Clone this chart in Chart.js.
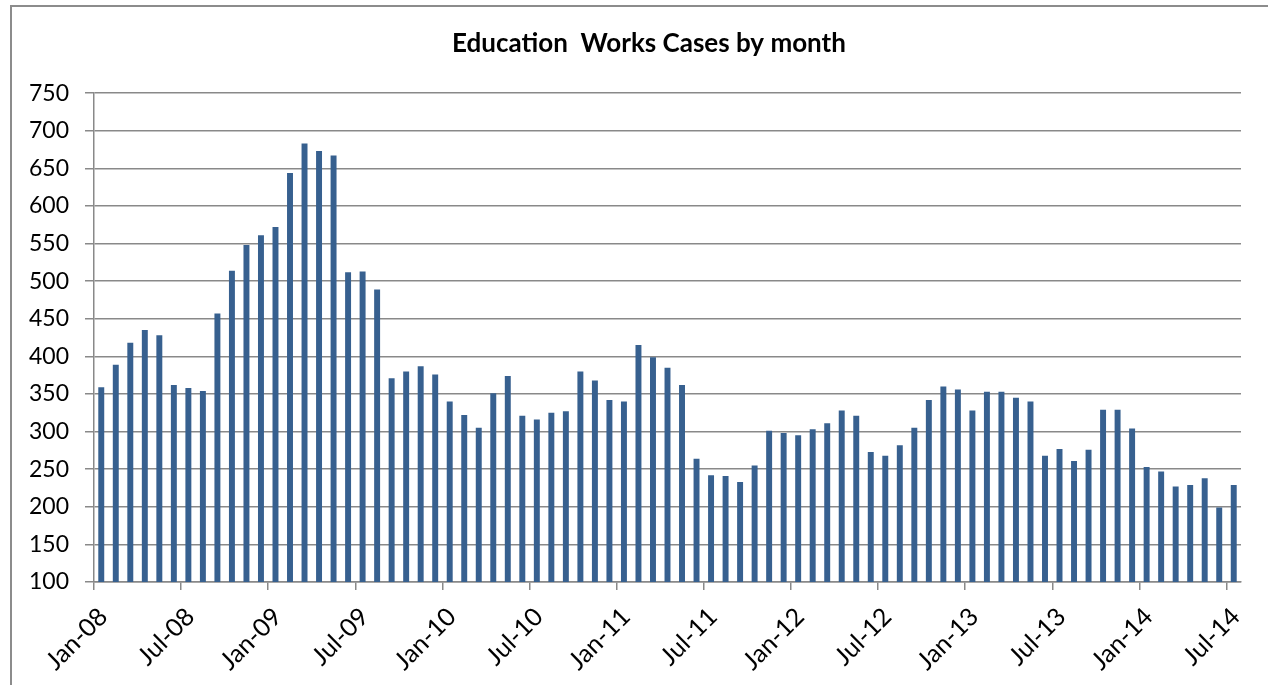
<!DOCTYPE html>
<html>
<head>
<meta charset="utf-8">
<script src="https://cdn.jsdelivr.net/npm/chart.js@4.4.1/dist/chart.umd.min.js"></script>
<style>
  html, body { margin: 0; padding: 0; background: #fff; overflow: hidden; }
  #frame { position: absolute; left: 10px; top: 5px; width: 1300px; height: 720px;
           border-left: 2px solid #8c8c8c; border-top: 2px solid #8c8c8c; }
  #chart { position: absolute; left: 0; top: 0; }
</style>
</head>
<body>
<div id="frame"></div>
<canvas id="chart" width="1268" height="685"></canvas>
<script>
// months on the category axis
var months = [
    'Jan-08', 'Feb-08', 'Mar-08', 'Apr-08', 'May-08', 'Jun-08', 'Jul-08', 'Aug-08', 'Sep-08', 'Oct-08', 'Nov-08', 'Dec-08',
    'Jan-09', 'Feb-09', 'Mar-09', 'Apr-09', 'May-09', 'Jun-09', 'Jul-09', 'Aug-09', 'Sep-09', 'Oct-09', 'Nov-09', 'Dec-09',
    'Jan-10', 'Feb-10', 'Mar-10', 'Apr-10', 'May-10', 'Jun-10', 'Jul-10', 'Aug-10', 'Sep-10', 'Oct-10', 'Nov-10', 'Dec-10',
    'Jan-11', 'Feb-11', 'Mar-11', 'Apr-11', 'May-11', 'Jun-11', 'Jul-11', 'Aug-11', 'Sep-11', 'Oct-11', 'Nov-11', 'Dec-11',
    'Jan-12', 'Feb-12', 'Mar-12', 'Apr-12', 'May-12', 'Jun-12', 'Jul-12', 'Aug-12', 'Sep-12', 'Oct-12', 'Nov-12', 'Dec-12',
    'Jan-13', 'Feb-13', 'Mar-13', 'Apr-13', 'May-13', 'Jun-13', 'Jul-13', 'Aug-13', 'Sep-13', 'Oct-13', 'Nov-13', 'Dec-13',
    'Jan-14', 'Feb-14', 'Mar-14', 'Apr-14', 'May-14', 'Jun-14', 'Jul-14'
];

// cases per month
var cases = [
    359, 389, 418, 435, 428, 362, 358, 354, 457, 514, 548, 561,
    572, 644, 683, 673, 667, 512, 513, 489, 371, 380, 387, 376,
    340, 322, 305, 351, 374, 321, 316, 325, 327, 380, 368, 342,
    340, 415, 399, 385, 362, 264, 242, 241, 233, 255, 301, 298,
    295, 303, 311, 328, 321, 273, 268, 282, 305, 342, 360, 356,
    328, 353, 353, 345, 340, 268, 277, 261, 276, 329, 329, 304,
    253, 247, 227, 229, 238, 199, 229
];

var yMin = 100, yMax = 750, yStep = 50;
var labelEvery = 6; // one axis label every half year

var gridGray = '#898989';

// the title in the original sits a bit right of the canvas centre
var shiftTitle = {
    id: 'shiftTitle',
    afterLayout: function (chart) {
        if (chart.titleBlock) { chart.titleBlock.left = 57; }
    }
};

window.onload = function () {
    var ctx = document.getElementById('chart').getContext('2d');
    new Chart(ctx, {
        type: 'bar',
        data: {
            labels: months,
            datasets: [{
                label: 'Cases',
                data: cases,
                backgroundColor: '#37608F',
                borderWidth: 0,
                barPercentage: 0.41,
                categoryPercentage: 1.0
            }]
        },
        plugins: [shiftTitle],
        options: {
            responsive: false,
            devicePixelRatio: 1,
            animation: false,
            layout: { padding: { left: 0, right: 27, top: 0, bottom: 0 } },
            plugins: {
                legend: { display: false },
                tooltip: { enabled: false },
                title: {
                    display: true,
                    text: 'Education  Works Cases by month',
                    color: '#000',
                    font: { family: 'Lato', size: 26, weight: 'bold' },
                    padding: { top: 28, bottom: 34 }
                }
            },
            scales: {
                x: {
                    offset: true,
                    grid: {
                        offset: true,
                        drawOnChartArea: false,
                        tickLength: 8,
                        lineWidth: 1.5,
                        color: function (c) { return c.index % labelEvery === 0 ? gridGray : 'rgba(0,0,0,0)'; }
                    },
                    border: { display: true, color: gridGray, width: 1.5 },
                    ticks: {
                        autoSkip: false,
                        minRotation: 45,
                        maxRotation: 45,
                        padding: 12,
                        labelOffset: 2,
                        color: '#000',
                        font: { family: 'Lato', size: 25 },
                        callback: function (v, i) { return i % labelEvery === 0 ? months[i] : ''; }
                    },
                    afterFit: function (s) { s.height = 103; }
                },
                y: {
                    min: yMin,
                    max: yMax,
                    grid: { color: gridGray, lineWidth: 1.5, tickLength: 9 },
                    border: { display: true, color: gridGray, width: 1.5 },
                    ticks: {
                        stepSize: yStep,
                        padding: 16,
                        color: '#000',
                        font: { family: 'Lato', size: 23 }
                    },
                    afterFit: function (s) { s.width = 94; }
                }
            }
        }
    });
};
</script>
</body>
</html>
